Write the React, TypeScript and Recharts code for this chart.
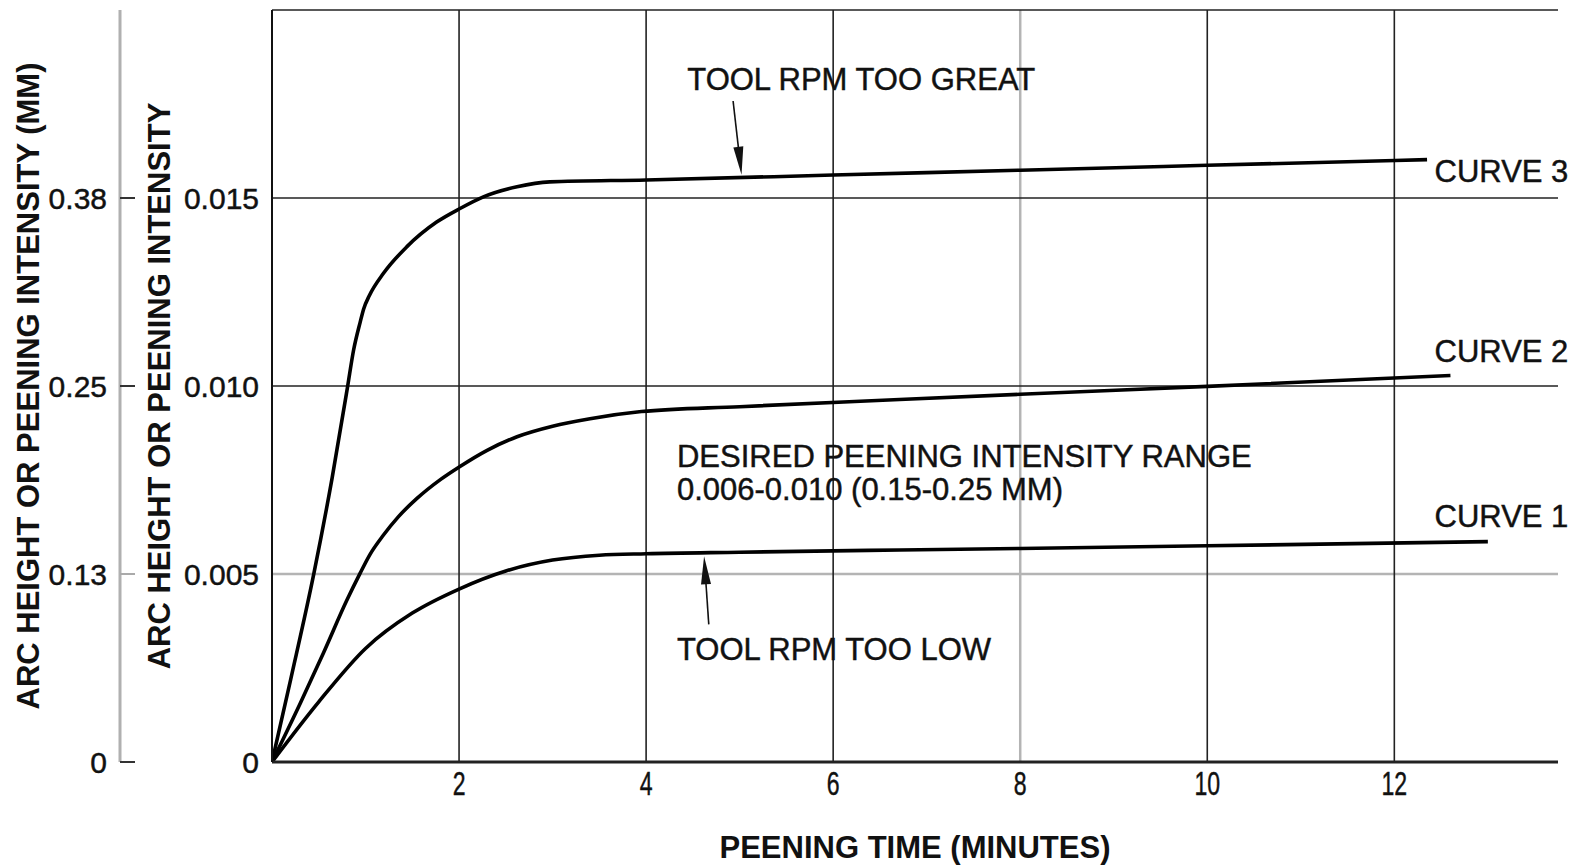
import React from 'react';
import { LineChart, Line, XAxis, YAxis, CartesianGrid, ReferenceLine, ReferenceDot } from 'recharts';

const FONT = '"Liberation Sans", Arial, Helvetica, sans-serif';
const INK = '#111111';

// ---- data (time in minutes, arc height in inches) ----
const curve1T = [0, 0.5, 1.0, 1.5, 2.0, 2.5, 3.0, 3.5, 4.0, 5.0, 6.71, 8.0, 10.0, 13.0];
const curve1V = [0, 0.0016, 0.00302, 0.00396, 0.0046, 0.00508, 0.00537, 0.0055, 0.00554, 0.00558, 0.00564, 0.00568, 0.00575, 0.00586];

const curve2T = [0, 0.3, 0.55, 0.8, 0.94, 1.05, 1.19, 1.35, 1.55, 1.8, 2.01, 2.3, 2.62, 3.0, 3.4, 3.95, 5.0, 6.71, 8.0, 10.0, 12.6];
const curve2V = [0, 0.00155, 0.0029, 0.0043, 0.00501, 0.00553, 0.00603, 0.00652, 0.00701, 0.00751, 0.00786, 0.00829, 0.00865, 0.00893, 0.00913, 0.00932, 0.00945, 0.00964, 0.00978, 0.00999, 0.01028];

const curve3T = [0, 0.2, 0.449, 0.644, 0.808, 0.872, 0.943, 0.98, 1.04, 1.19, 1.44, 1.76, 2.01, 2.26, 2.62, 2.97, 4.0, 6.0, 8.0, 10.0, 12.35];
const curve3V = [0, 0.0022, 0.00503, 0.00757, 0.00998, 0.01095, 0.0117, 0.01205, 0.0124, 0.01299, 0.0137, 0.01436, 0.01472, 0.01503, 0.0153, 0.01543, 0.01548, 0.01561, 0.01574, 0.01587, 0.01602];

const xTicks = [2, 4, 6, 8, 10, 12];
const yTicks = [0, 0.005, 0.01, 0.015];
const yTickLabelsIn = ['0', '0.005', '0.010', '0.015'];
const yTickLabelsMm = ['0', '0.13', '0.25', '0.38'];

const gridDarkY = [0.01, 0.015, 0.02];
const gridLightY = [0.005];
const gridDarkX = [2, 4, 6, 10, 12];
const gridLightX = [8];

const curveNames = ['CURVE 1', 'CURVE 2', 'CURVE 3'];
const curveLabelX = [12.43, 12.43, 12.43];
const curveLabelY = [0.00625, 0.01063, 0.01543];

const noteGreatText = 'TOOL RPM TOO GREAT';
const noteGreatPos = [4.44, 0.01787];
const noteGreatArrow = [[4.93, 0.01758], [5.02, 0.01562]];

const noteLowText = 'TOOL RPM TOO LOW';
const noteLowPos = [4.33, 0.00271];
const noteLowArrow = [[4.67, 0.00366], [4.62, 0.00547]];

const rangeLines = ['DESIRED PEENING INTENSITY RANGE', '0.006-0.010 (0.15-0.25 MM)'];
const rangePos = [4.33, 0.00785];

const xTitle = 'PEENING TIME (MINUTES)';
const yTitleIn = 'ARC HEIGHT OR PEENING INTENSITY';
const yTitleMm = 'ARC HEIGHT OR PEENING INTENSITY (MM)';

const toRows = (t: number[], v: number[]) => t.map((tt, i) => ({ t: tt, v: v[i] }));
const curve1Data = toRows(curve1T, curve1V);
const curve2Data = toRows(curve2T, curve2V);
const curve3Data = toRows(curve3T, curve3V);

// ---- renderers ----
const TICK_MARGIN = 13;
const TXT_STROKE = 0.45;

const InTick = (props: any) => {
  const { x, y, payload } = props;
  const i = yTicks.indexOf(payload.value);
  return (
    <text x={x} y={y} dy="0.36em" textAnchor="end" fontFamily={FONT} fontSize={30} fill={INK} stroke={INK} strokeWidth={TXT_STROKE}>
      {yTickLabelsIn[i]}
    </text>
  );
};

const MmTick = (props: any) => {
  const { x, y, payload } = props;
  const i = yTicks.indexOf(payload.value);
  const ax = x + TICK_MARGIN;
  return (
    <g>
      <line x1={ax} x2={ax + 15} y1={y} y2={y} stroke={payload.value === 0.005 ? '#aaaaaa' : '#333333'} strokeWidth={2} />
      <text x={x} y={y} dy="0.36em" textAnchor="end" fontFamily={FONT} fontSize={30} fill={INK} stroke={INK} strokeWidth={TXT_STROKE}>
        {yTickLabelsMm[i]}
      </text>
    </g>
  );
};

const XTick = (props: any) => {
  const { x, y, payload } = props;
  return (
    <text
      transform={`translate(${x},${y}) scale(0.7,1)`}
      x={0}
      y={0}
      dy="0.71em"
      textAnchor="middle"
      fontFamily={FONT}
      fontSize={33}
      fill={INK}
      stroke={INK}
      strokeWidth={TXT_STROKE}
    >
      {String(payload.value)}
    </text>
  );
};

const makeYTitle = (text: string, dx: number) => (props: any) => {
  const vb = props.viewBox || {};
  const cx = vb.x + dx;
  const cy = vb.y + vb.height / 2;
  return (
    <text
      x={cx}
      y={cy}
      transform={`rotate(-90 ${cx} ${cy})`}
      textAnchor="middle"
      dominantBaseline="central"
      fontFamily={FONT}
      fontWeight="bold"
      fontSize={31}
      fill={INK}
    >
      {text}
    </text>
  );
};

const XTitle = (props: any) => {
  const vb = props.viewBox || {};
  return (
    <text x={vb.x + vb.width / 2} y={vb.y + 96} textAnchor="middle" fontFamily={FONT} fontWeight="bold" fontSize={31} fill={INK}>
      {xTitle}
    </text>
  );
};

const makeNote = (lines: string[], lineGap: number) => (props: any) => {
  const vb = props.viewBox || {};
  return (
    <text x={vb.x} y={vb.y} textAnchor="start" fontFamily={FONT} fontSize={31} fill={INK} stroke={INK} strokeWidth={TXT_STROKE}>
      {lines.map((s, i) => (
        <tspan key={i} x={vb.x} dy={i === 0 ? 0 : lineGap}>
          {s}
        </tspan>
      ))}
    </text>
  );
};

const Arrow = (props: any) => {
  const { x1, y1, x2, y2 } = props;
  const dx = x2 - x1;
  const dy = y2 - y1;
  const len = Math.hypot(dx, dy) || 1;
  const ux = dx / len;
  const uy = dy / len;
  const hl = 28;
  const hw = 5;
  const bx = x2 - ux * hl;
  const by = y2 - uy * hl;
  return (
    <g>
      <line x1={x1} y1={y1} x2={bx + ux * 2} y2={by + uy * 2} stroke={INK} strokeWidth={1.6} />
      <polygon points={`${x2},${y2} ${bx - uy * hw},${by + ux * hw} ${bx + uy * hw},${by - ux * hw}`} fill={INK} />
    </g>
  );
};

export default function App() {
  return (
    <div style={{ position: 'absolute', left: 0, top: 0, width: 1592, height: 868, background: '#ffffff' }}>
      <LineChart width={1592} height={868} margin={{ top: 10, right: 34, bottom: 0, left: 10 }}>
        <CartesianGrid yAxisId="in" horizontalValues={gridLightY} verticalValues={gridLightX} stroke="#b4b4b4" strokeWidth={2.5} />
        <CartesianGrid yAxisId="in" horizontalValues={gridDarkY} verticalValues={gridDarkX} stroke="#222222" strokeWidth={1.6} />
        <XAxis
          dataKey="t"
          type="number"
          domain={[0, 13.75]}
          allowDataOverflow
          ticks={xTicks}
          interval={0}
          tickLine={false}
          tickSize={0}
          tickMargin={10}
          tick={<XTick />}
          height={106}
          axisLine={{ stroke: '#222222', strokeWidth: 3 }}
          label={XTitle}
        />
        <YAxis
          yAxisId="in"
          type="number"
          domain={[0, 0.02]}
          allowDataOverflow
          ticks={yTicks}
          interval={0}
          width={152}
          tickLine={false}
          tickSize={0}
          tickMargin={TICK_MARGIN}
          tick={<InTick />}
          axisLine={{ stroke: '#111111', strokeWidth: 2 }}
          label={makeYTitle(yTitleIn, 39.5)}
        />
        <YAxis
          yAxisId="mm"
          type="number"
          domain={[0, 0.02]}
          allowDataOverflow
          ticks={yTicks}
          interval={0}
          width={110}
          tickLine={false}
          tickSize={0}
          tickMargin={TICK_MARGIN}
          tick={<MmTick />}
          axisLine={{ stroke: '#b0b0b0', strokeWidth: 3 }}
          label={makeYTitle(yTitleMm, 18.5)}
        />
        <Line yAxisId="mm" data={curve1Data} dataKey="v" stroke="none" dot={false} activeDot={false} isAnimationActive={false} />
        <Line yAxisId="in" data={curve1Data} dataKey="v" type="monotone" stroke="#000000" strokeWidth={3.6} dot={false} activeDot={false} isAnimationActive={false} />
        <Line yAxisId="in" data={curve2Data} dataKey="v" type="monotone" stroke="#000000" strokeWidth={3.6} dot={false} activeDot={false} isAnimationActive={false} />
        <Line yAxisId="in" data={curve3Data} dataKey="v" type="monotone" stroke="#000000" strokeWidth={3.6} dot={false} activeDot={false} isAnimationActive={false} />

        <ReferenceLine
          yAxisId="in"
          segment={[{ x: noteGreatArrow[0][0], y: noteGreatArrow[0][1] }, { x: noteGreatArrow[1][0], y: noteGreatArrow[1][1] }]}
          shape={Arrow}
        />
        <ReferenceLine
          yAxisId="in"
          segment={[{ x: noteLowArrow[0][0], y: noteLowArrow[0][1] }, { x: noteLowArrow[1][0], y: noteLowArrow[1][1] }]}
          shape={Arrow}
        />

        <ReferenceDot yAxisId="in" x={noteGreatPos[0]} y={noteGreatPos[1]} r={0} fill="none" stroke="none" label={makeNote([noteGreatText], 0)} />
        <ReferenceDot yAxisId="in" x={noteLowPos[0]} y={noteLowPos[1]} r={0} fill="none" stroke="none" label={makeNote([noteLowText], 0)} />
        <ReferenceDot yAxisId="in" x={rangePos[0]} y={rangePos[1]} r={0} fill="none" stroke="none" label={makeNote(rangeLines, 33)} />
        {curveNames.map((n, i) => (
          <ReferenceDot key={n} yAxisId="in" x={curveLabelX[i]} y={curveLabelY[i]} r={0} fill="none" stroke="none" label={makeNote([n], 0)} />
        ))}
      </LineChart>
    </div>
  );
}
